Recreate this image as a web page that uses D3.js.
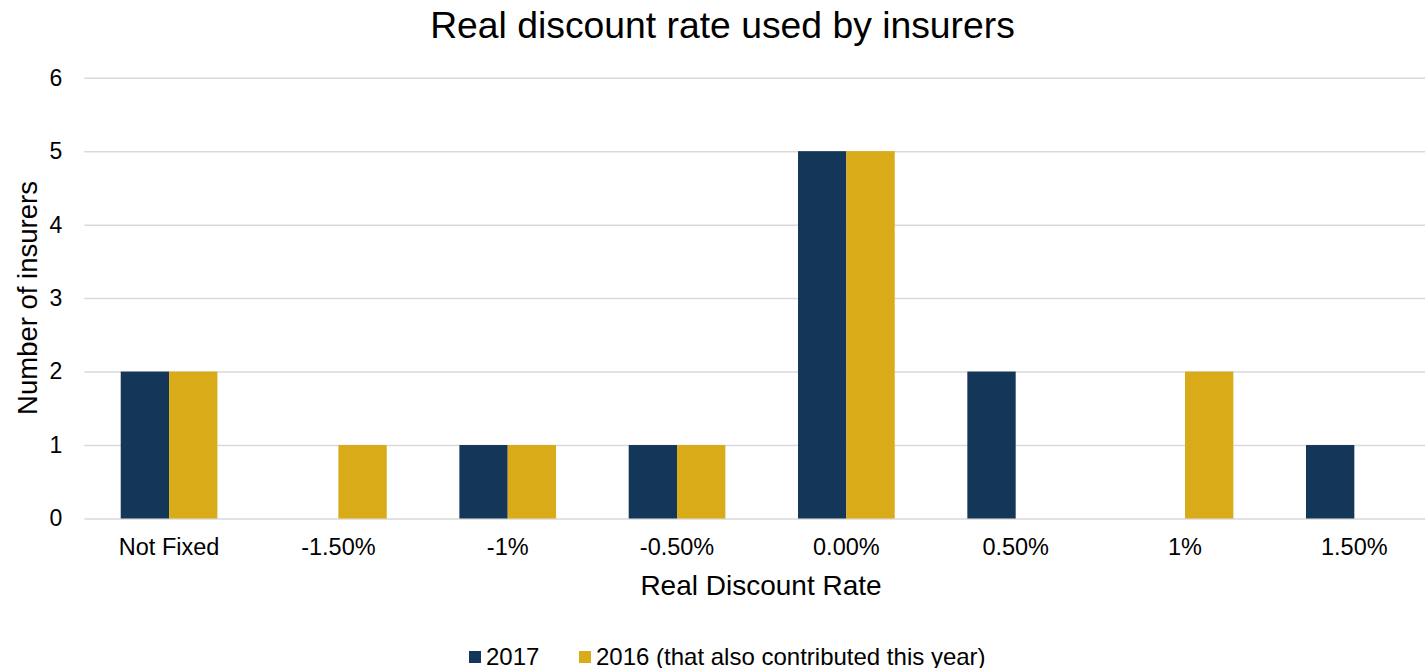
<!DOCTYPE html>
<html><head><meta charset="utf-8">
<script src="https://cdn.jsdelivr.net/npm/d3@7"></script>
<style>body{margin:0;background:#fff;}svg{display:block;font-family:"Liberation Sans",Arial,sans-serif;}</style>
</head><body>
<svg id="c" width="1425" height="668"></svg>
<script>
const categories = ["Not Fixed","-1.50%","-1%","-0.50%","0.00%","0.50%","1%","1.50%"];
const seriesNames = ["2017","2016 (that also contributed this year)"];
const values2017 = [2,0,1,1,5,2,0,1];
const values2016 = [2,1,1,1,5,0,2,0];
const yTicks = [0,1,2,3,4,5,6];
const colors = ["#143659","#d9ab19"];

(function(){
const svg = d3.select("#c");
const pL = 84.4, pR = 1439, pT = 77.7, pB = 518.5;
const x0 = d3.scaleBand().domain(categories).range([pL,pR]).paddingInner(0.429).paddingOuter(0.2145);
const x1 = d3.scaleBand().domain(seriesNames).range([0,x0.bandwidth()]);
const y = d3.scaleLinear().domain([0,6]).range([pB,pT]);

// gridlines
const yAxis = d3.axisLeft(y).tickValues(yTicks).tickSize(-(pR-pL)).tickPadding(22).tickFormat(d3.format("d"));
const gy = svg.append("g").attr("transform",`translate(${pL},0)`).call(yAxis);
gy.select(".domain").remove();
gy.selectAll(".tick line").attr("stroke","#d9d9d9").attr("stroke-width",1.5);
gy.selectAll(".tick text").attr("font-size","23px").attr("fill","#000").attr("font-family","Liberation Sans, Arial, sans-serif");

// bars
const data = categories.map((c,i)=>({c, v:[values2017[i], values2016[i]]}));
const g = svg.append("g");
data.forEach(d=>{
  d.v.forEach((v,j)=>{
    if(v<=0) return;
    g.append("rect")
      .attr("x", x0(d.c)+x1(seriesNames[j]))
      .attr("width", x1.bandwidth())
      .attr("y", y(v))
      .attr("height", y(0)-y(v))
      .attr("fill", colors[j]);
  });
});

// x axis
const xAxis = d3.axisBottom(x0).tickSize(0).tickPadding(20);
const gx = svg.append("g").attr("transform",`translate(0,${pB})`).call(xAxis);
gx.select(".domain").remove();
gx.selectAll(".tick text").attr("font-size","23.5px").attr("fill","#000").attr("font-family","Liberation Sans, Arial, sans-serif");

// titles
svg.append("text").attr("x",722.5).attr("y",38).attr("text-anchor","middle").attr("font-size","37.3px").attr("fill","#000").text("Real discount rate used by insurers");
svg.append("text").attr("x",761).attr("y",595).attr("text-anchor","middle").attr("font-size","28px").attr("fill","#000").text("Real Discount Rate");
svg.append("text").attr("transform","translate(37,298) rotate(-90)").attr("text-anchor","middle").attr("font-size","27.5px").attr("fill","#000").text("Number of insurers");

// legend
const legendX = [469, 579];
seriesNames.forEach((n,i)=>{
  svg.append("rect").attr("x",legendX[i]).attr("y",651).attr("width",12).attr("height",12).attr("fill",colors[i]);
  svg.append("text").attr("x",legendX[i]+17).attr("y",664.5).attr("font-size","24px").attr("fill","#000").text(n);
});
})();
</script>
</body></html>
